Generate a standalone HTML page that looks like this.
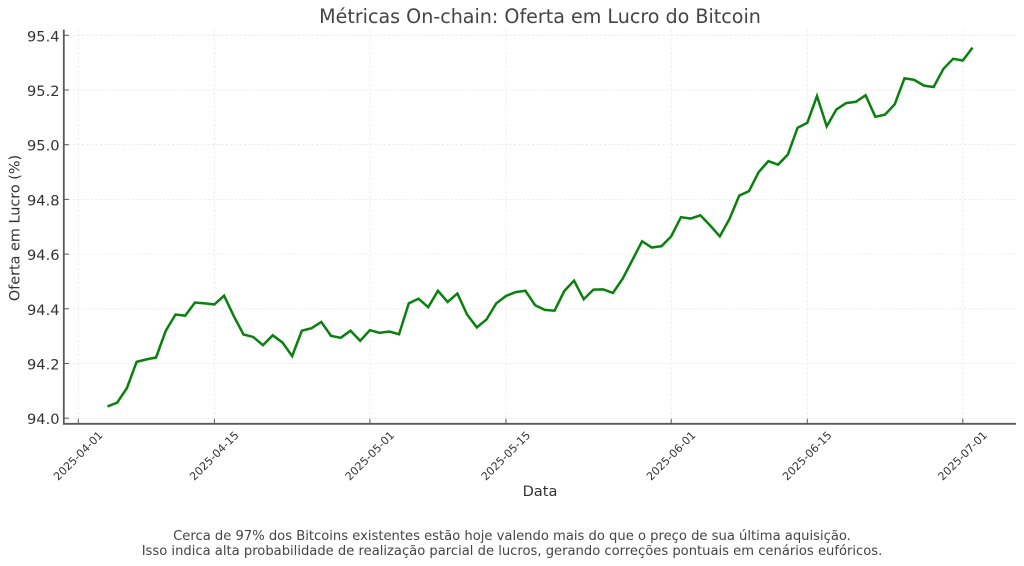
<!DOCTYPE html>
<html lang="pt">
<head>
<meta charset="utf-8">
<title>Métricas On-chain: Oferta em Lucro do Bitcoin</title>
<style>
html,body{margin:0;padding:0;background:#fff;width:1024px;height:566px;overflow:hidden}
svg{display:block;font-family:"DejaVu Sans","Liberation Sans",sans-serif}
text{fill:#333}
</style>
</head>
<body>
<svg id="chart" xmlns="http://www.w3.org/2000/svg" width="1024" height="566" viewBox="0 0 1024 566">
  <rect width="1024" height="566" fill="#fff"/>
  <g id="grid"></g>
  <g id="series"></g>
  <g id="axes"></g>
  <text x="540" y="23" text-anchor="middle" font-size="19.1" style="fill:#444">Métricas On-chain: Oferta em Lucro do Bitcoin</text>
  <text x="540" y="496" text-anchor="middle" font-size="14.6">Data</text>
  <text transform="translate(19.5 228) rotate(-90)" text-anchor="middle" font-size="14.4">Oferta em Lucro (%)</text>
  <text x="512" y="540" text-anchor="middle" font-size="13.13" style="fill:#444">Cerca de 97% dos Bitcoins existentes estão hoje valendo mais do que o preço de sua última aquisição.</text>
  <text x="512" y="555" text-anchor="middle" font-size="13.13" style="fill:#444">Isso indica alta probabilidade de realização parcial de lucros, gerando correções pontuais em cenários eufóricos.</text>
</svg>
<script>
const startDate = "2025-04-04";
const supplyInProfit = [
  94.043,94.057,94.110,94.206,94.215,94.222,94.320,94.379,94.375,94.423,
  94.420,94.416,94.448,94.373,94.306,94.297,94.267,94.303,94.277,94.227,
  94.320,94.329,94.352,94.301,94.294,94.320,94.283,94.322,94.312,94.317,
  94.307,94.420,94.437,94.406,94.466,94.425,94.456,94.379,94.332,94.361,
  94.420,94.447,94.461,94.466,94.413,94.396,94.393,94.465,94.503,94.435,
  94.470,94.471,94.458,94.510,94.578,94.647,94.624,94.629,94.665,94.735,
  94.730,94.742,94.705,94.665,94.729,94.814,94.830,94.900,94.940,94.927,
  94.964,95.062,95.080,95.178,95.067,95.129,95.152,95.157,95.181,95.102,
  95.110,95.148,95.243,95.237,95.216,95.211,95.277,95.314,95.308,95.355
];
const xTickLabels = ["2025-04-01","2025-04-15","2025-05-01","2025-05-15","2025-06-01","2025-06-15","2025-07-01"];
const yTickLabels = ["94.0","94.2","94.4","94.6","94.8","95.0","95.2","95.4"];

const NS = "http://www.w3.org/2000/svg";
const DAY = 86400000;
const plot = { left: 63.8, right: 1016, top: 29.5, bottom: 423.8 };
const x0 = Date.parse("2025-04-01"), x1 = Date.parse("2025-07-01");
const xScale = t => 78.3 + (t - x0) / (x1 - x0) * (962.8 - 78.3);
const yScale = v => 418.2 - (v - 94) / 1.4 * (418.2 - 35.3);
const gridLayer = document.getElementById("grid");
const axesLayer = document.getElementById("axes");
const seriesLayer = document.getElementById("series");

function make(tag, attrs, parent) {
  const el = document.createElementNS(NS, tag);
  for (const k in attrs) el.setAttribute(k, attrs[k]);
  parent.appendChild(el);
  return el;
}

xTickLabels.forEach(label => {
  const x = xScale(Date.parse(label));
  const grid = make("line", { x1: x, x2: x, y1: plot.top, y2: plot.bottom, stroke: "#e4e4e4", "stroke-width": 0.8, "stroke-dasharray": "2.5 2", opacity: 0.8 }, gridLayer);
  
  
  const tick = make("line", { x1: x, x2: x, y1: plot.bottom, y2: plot.bottom - 5, stroke: "#555", "stroke-width": 1 }, axesLayer);
  
  
  const text = make("text", { transform: "translate(" + x + " 456) rotate(-45)", "text-anchor": "middle", "dominant-baseline": "central", "font-size": 11 }, axesLayer);
  
  
  text.textContent = label;
});

yTickLabels.forEach(label => {
  const y = yScale(parseFloat(label));
  const grid = make("line", { x1: plot.left, x2: plot.right, y1: y, y2: y, stroke: "#e4e4e4", "stroke-width": 0.8, "stroke-dasharray": "2.5 2", opacity: 0.8 }, gridLayer);
  
  
  const tick = make("line", { x1: plot.left, x2: plot.left + 5, y1: y, y2: y, stroke: "#555", "stroke-width": 1 }, axesLayer);
  
  
  const text = make("text", { x: 59.5, y: y + 6, "text-anchor": "end", "font-size": 14.6 }, axesLayer);
  
  
  text.textContent = label;
});

const spineLeft = make("line", { x1: plot.left, x2: plot.left, y1: plot.top, y2: plot.bottom + 0.9, stroke: "#5a5a5a", "stroke-width": 1.8 }, axesLayer);


const spineBottom = make("line", { x1: plot.left, x2: plot.right, y1: plot.bottom, y2: plot.bottom, stroke: "#5a5a5a", "stroke-width": 1.8 }, axesLayer);



const t0 = Date.parse(startDate);
const points = supplyInProfit.map((v, i) => xScale(t0 + i * DAY).toFixed(2) + "," + yScale(v).toFixed(2)).join(" ");
const line = make("polyline", { points: points, fill: "none", stroke: "#0a800f", "stroke-width": 2.5, "stroke-linejoin": "miter", "stroke-linecap": "butt" }, seriesLayer);


</script>
</body>
</html>
